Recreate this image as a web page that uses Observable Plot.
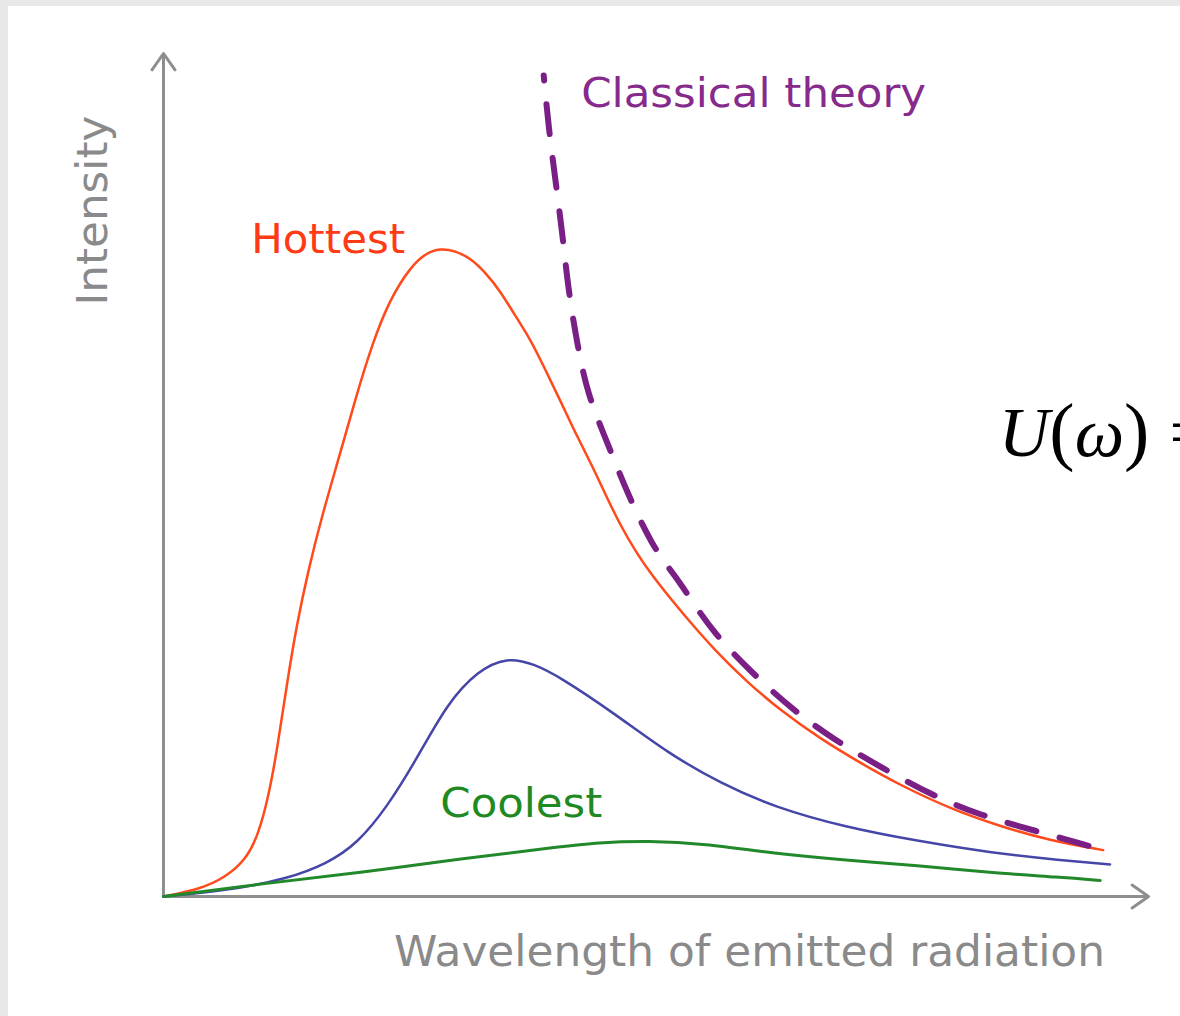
<!DOCTYPE html>
<html><head><meta charset="utf-8">
<script src="https://cdn.jsdelivr.net/npm/d3@7"></script>
<script src="https://cdn.jsdelivr.net/npm/@observablehq/plot@0.6"></script>
<style>
html,body{margin:0;padding:0;background:#e8e8e8;overflow:hidden;width:1180px;height:1016px;}
#frame{position:absolute;left:8px;top:6px;width:1172px;height:1010px;background:#fff;overflow:hidden;}
#frame svg{display:block;}
</style></head><body><div id="frame"></div>
<script>
// Wavelength (arbitrary units 0–100) and intensity (arbitrary units 0–100)
const hottestX = [0, 3.8, 6.3, 8.3, 9.6, 10.7, 11.6, 12.5, 13.5, 14.7, 16.1, 17.8, 19.5, 21.2, 23.0, 25.1, 26.6, 28.1, 29.6, 31.2, 32.7, 34.2, 35.7, 37.3, 38.8, 40.3, 41.8, 43.4, 44.9, 46.4, 47.9, 49.4, 51.5, 53.5, 56.0, 59.1, 62.6, 66.7, 70.8, 74.8, 79.9, 85.0, 90.1, 95.4];
const hottestY = [0, 0.9, 2.3, 4.3, 7.2, 12.0, 17.9, 25.0, 32.1, 38.7, 45.2, 52.0, 59.1, 65.6, 70.9, 74.7, 76.3, 76.9, 76.6, 75.7, 74.0, 71.8, 68.9, 66.0, 62.4, 58.8, 55.0, 51.4, 47.6, 44.0, 41.0, 38.4, 35.3, 32.5, 29.2, 25.6, 22.1, 18.7, 15.8, 13.2, 10.4, 8.3, 6.6, 5.5];

const middleX = [0, 6.5, 12.6, 16.6, 19.7, 22.7, 25.8, 28.8, 31.9, 34.9, 37.6, 40.3, 45.8, 51.2, 56.6, 62.0, 69.3, 76.5, 83.9, 91.1, 96.1];
const middleY = [0, 0.7, 2.1, 3.9, 6.3, 10.6, 16.5, 22.9, 26.8, 28.4, 27.6, 26.0, 21.7, 17.0, 13.4, 10.6, 8.2, 6.6, 5.2, 4.3, 3.8];

const coolestX = [0, 9.8, 20.0, 30.2, 40.3, 44.0, 49.3, 54.8, 62.0, 69.3, 76.5, 83.9, 91.1, 95.1];
const coolestY = [0, 1.5, 2.8, 4.5, 5.9, 6.4, 6.6, 6.3, 5.1, 4.3, 3.7, 2.8, 2.3, 1.9];

const classicalX = [38.6, 39.1, 39.8, 40.5, 41.1, 42.0, 43.0, 45.1, 47.1, 49.7, 51.9, 53.4, 55.9, 59.5, 63.9, 68.2, 72.9, 78.0, 83.0, 88.5, 94.0, 95.4];
const classicalY = [97.4, 91.2, 84.9, 78.6, 71.9, 65.6, 59.7, 53.7, 47.8, 41.4, 38.1, 35.5, 31.2, 26.8, 22.1, 18.5, 15.3, 12.0, 9.6, 7.8, 6.0, 5.5];

const labels = ["Hottest", "Coolest", "Classical theory"];
const xLabel = "Wavelength of emitted radiation";
const yLabel = "Intensity";
const formula = "U(ω) =";

const rows = (xs, ys) => xs.map((x, i) => ({x, y: ys[i]}));
const hot = rows(hottestX, hottestY);
const mid = rows(middleX, middleY);
const cool = rows(coolestX, coolestY);
const classical = rows(classicalX, classicalY);

const sans = "'DejaVu Sans', Verdana, sans-serif";
const axes = [
  {x1: 0, y1: 0, x2: 100, y2: 0},
  {x1: 0, y1: 0, x2: 0, y2: 100}
];

const plot = Plot.plot({
  width: 1172, height: 1010,
  marginLeft: 155, marginRight: 32, marginTop: 47, marginBottom: 120,
  x: {domain: [0, 100], axis: null},
  y: {domain: [0, 100], axis: null},
  style: {background: "transparent", overflow: "visible"},
  marks: [
    Plot.arrow(axes, {x1: "x1", y1: "y1", x2: "x2", y2: "y2", stroke: "#8e8e8e", strokeWidth: 3, headLength: 10, headAngle: 70}),
    Plot.line(hot, {x: "x", y: "y", stroke: "#ff4a1c", strokeWidth: 2.5, curve: "basis"}),
    Plot.line(mid, {x: "x", y: "y", stroke: "#4646a8", strokeWidth: 2.5, curve: "basis"}),
    Plot.line(cool, {x: "x", y: "y", stroke: "#22892a", strokeWidth: 3, curve: "basis"}),
    Plot.line(classical, {x: "x", y: "y", stroke: "#7a1f86", strokeWidth: 6, strokeDasharray: "30,24", strokeDashoffset: 25, curve: "basis"}),
    Plot.text([labels[0]], {x: 8.9, y: 76.3, text: d => d, fill: "#ff3a14", fontSize: 40, fontFamily: sans, textAnchor: "start", lineAnchor: "bottom"}),
    Plot.text([labels[1]], {x: 28.1, y: 9.4, text: d => d, fill: "#1f8a22", fontSize: 40, fontFamily: sans, textAnchor: "start", lineAnchor: "bottom"}),
    Plot.text([labels[2]], {x: 42.4, y: 93.6, text: d => d, fill: "#862a8c", fontSize: 40, fontFamily: sans, textAnchor: "start", lineAnchor: "bottom"}),
    Plot.text([xLabel], {x: 23.4, y: -8.2, text: d => d, fill: "#8a8a8a", fontSize: 42, fontFamily: sans, textAnchor: "start", lineAnchor: "bottom"}),
    Plot.text([yLabel], {x: -5.7, y: 70.1, text: d => d, fill: "#8a8a8a", fontSize: 42, fontFamily: sans, textAnchor: "start", lineAnchor: "bottom", rotate: -90}),
    Plot.text([formula], {x: 84.8, y: 52.3, text: d => d, fill: "#000", fontSize: 70, fontFamily: "'Liberation Serif', 'Times New Roman', serif", textAnchor: "start", lineAnchor: "bottom"})
  ]
});
document.getElementById("frame").appendChild(plot);

// fit text widths to the reference's pixel font; typeset the formula
const widths = {"Hottest": 154, "Coolest": 162, "Classical theory": 345, "Wavelength of emitted radiation": 711, "Intensity": 190};
d3.select(plot).selectAll("text").each(function() {
  const t = this.textContent;
  if (widths[t]) d3.select(this).attr("textLength", widths[t]).attr("lengthAdjust", "spacingAndGlyphs");
  if (t === formula) {
    const s = d3.select(this);
    s.text(null);
    s.append("tspan").attr("font-style", "italic").text("U");
    s.append("tspan").attr("font-size", 76).text("(");
    s.append("tspan").attr("font-style", "italic").text("ω");
    s.append("tspan").attr("font-size", 76).text(")");
    s.append("tspan").attr("dx", 20).text("=");
  }
});
</script>
</body></html>
